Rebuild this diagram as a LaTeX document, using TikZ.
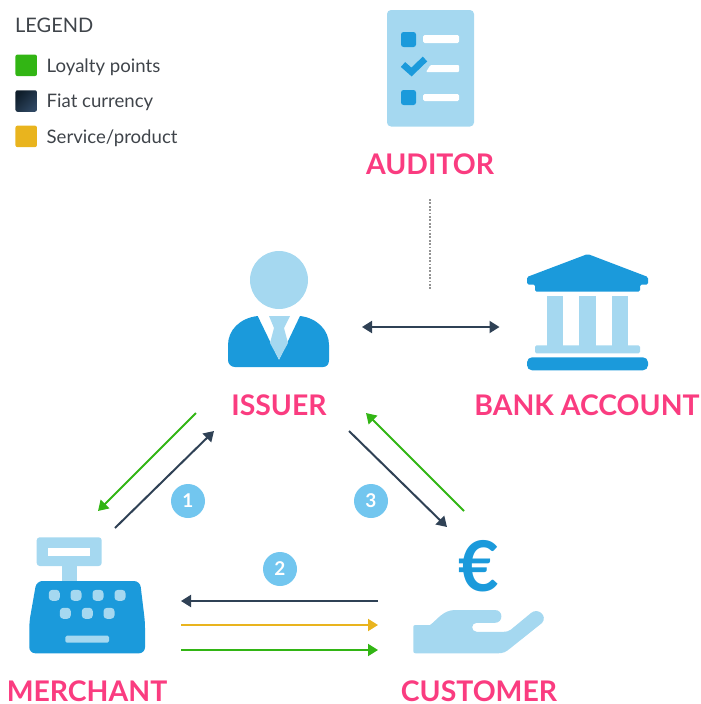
\documentclass[tikz,border=0pt]{standalone}
\usepackage{fontspec}
\setmainfont{Lato}
\usetikzlibrary{arrows.meta}
\definecolor{lightblue}{HTML}{A5D8F0}
\definecolor{darkblue}{HTML}{1B9ADB}
\definecolor{badge}{HTML}{72C6EF}
\definecolor{pinklabel}{HTML}{FA3C80}
\definecolor{fiat}{HTML}{2F4155}
\definecolor{loyal}{HTML}{32B514}
\definecolor{service}{HTML}{E9B41E}
\definecolor{legendtext}{HTML}{3F444A}
\definecolor{swdarklo}{HTML}{0F1E2B}
\definecolor{swdarkhi}{HTML}{2F4762}
\tikzset{
  x=1pt,y=-1pt,
  lite/.style={fill=lightblue,draw=none},
  deep/.style={fill=darkblue,draw=none},
  blank/.style={fill=white,draw=none},
  rolelabel/.style={text=pinklabel,font=\fontsize{28.4}{29}\selectfont\bfseries,inner sep=0pt,anchor=base},
  legendhead/.style={text=legendtext,font=\fontsize{20}{20}\selectfont,inner sep=0pt,anchor=base west},
  legendlabel/.style={text=legendtext,font=\fontsize{18.6}{19}\selectfont,inner sep=0pt,anchor=base west},
  swatch/.style={minimum width=21.5pt,minimum height=21.5pt,inner sep=0pt,rounded corners=2pt,draw=none},
  flow/.style={line width=2pt,-{Triangle[length=10pt,width=12pt]}},
  flowboth/.style={line width=2pt,{Triangle[length=10pt,width=12pt]}-{Triangle[length=10pt,width=12pt]}},
  auditlink/.style={line width=1.7pt,color=gray!85,dash pattern=on 1.7pt off 1.7pt},
  stepbadge/.style={circle,fill=badge,text=white,minimum size=34pt,inner sep=0pt,font=\fontsize{19}{19}\selectfont\bfseries},
  keycap/.style={fill=lightblue,draw=none,rounded corners=3.5pt,minimum width=11pt,minimum height=11pt,inner sep=0pt},
}
\begin{document}
\begin{tikzpicture}
\useasboundingbox (0,0) rectangle (701,704);
% legend
\node[legendhead] (legendtitle) at (15,32.5) {LEGEND};
\node[swatch,fill=loyal] (swgreen) at (26.2,65.3) {};
\node[swatch,left color=swdarklo,right color=swdarkhi,shading angle=45] (swdark) at (26.2,101) {};
\node[swatch,fill=service] (swyellow) at (26.2,136.4) {};
\node[legendlabel] (lgreen) at (46.5,72) {Loyalty points};
\node[legendlabel] (ldark) at (46.5,107.5) {Fiat currency};
\node[legendlabel] (lyellow) at (46.5,143) {Service/product};
% auditor icon
\fill[lite,rounded corners=4pt] (387,10) rectangle (474,126.5);
\fill[deep,rounded corners=2.5pt] (401,32) rectangle (416,47);
\fill[deep,rounded corners=2.5pt] (401,90) rectangle (416,105);
\fill[blank,rounded corners=1.5pt] (423,35) rectangle (459,43);
\fill[blank,rounded corners=1.5pt] (423,94) rectangle (459,101);
\fill[blank,rounded corners=1pt] (426,72) -- (430.5,65) -- (459,65) -- (459,72) -- cycle;
\draw[darkblue,line width=6.5pt] (403,64.5) -- (411.5,72) -- (425,59);
% issuer icon
\fill[lite] (279,280) circle [radius=29];
\fill[deep] (257.7,316) .. controls (240,318) and (228,330) .. (228,345) -- (228,360)
  .. controls (228,364) and (231,367) .. (235,367) -- (323,367)
  .. controls (327,367) and (329,364) .. (329,360) -- (329,345)
  .. controls (329,330) and (317,318) .. (300,316) -- (279,360) -- cycle;
\fill[lite] (269,316) -- (290,316) -- (284,328) -- (288,343) -- (279,359.5) -- (270,343) -- (274,328) -- cycle;
% bank icon
\fill[deep,rounded corners=1.5pt] (587.7,254) -- (648,277) -- (648,284.5) -- (640,284.5) -- (640,291.7) -- (535,291.7) -- (535,284.5) -- (527,284.5) -- (527,277) -- cycle;
\fill[lite] (546.7,295.7) rectangle (563.3,346);
\fill[lite] (579.3,295.7) rectangle (595.7,346);
\fill[lite] (611.7,295.7) rectangle (628.3,346);
\fill[lite,rounded corners=1.5pt] (535,345.3) rectangle (640,353.3);
\fill[deep,rounded corners=5pt] (527,357.3) rectangle (648,370.3);
% merchant icon
\fill[lite] (61.7,560) rectangle (76.7,585);
\fill[lite,rounded corners=3pt] (36.7,537.3) rectangle (101.7,566);
\fill[blank] (47.7,547.7) rectangle (90.3,556.3);
\fill[deep,rounded corners=6pt] (36.5,581) -- (140,581) -- (145,622) -- (145,653.3) -- (29.3,653.3) -- (29.3,622) -- cycle;
\foreach \n/\kx/\ky in {a/54.3/595.3,b/76/595.3,c/98/595.3,d/120/595.3,e/65.3/613.3,f/87.3/613.3,g/109/613.3}
  \node[keycap] (key\n) at (\kx,\ky) {};
\fill[lite,rounded corners=1.5pt] (65.3,635.7) rectangle (109,642.7);
% customer icon
\node[text=darkblue,font=\fontsize{70}{70}\selectfont\bfseries,inner sep=0pt] (euro) at (479,566) {€};
\fill[lite] (413.3,627) .. controls (413.3,625.7) and (414,625) .. (415.5,625) -- (430,625)
  .. controls (437,620) and (443,610) .. (455,610) -- (495,610)
  .. controls (503.5,610) and (503.5,622.8) .. (495,622.8)
  -- (476.7,622.8) .. controls (470.7,622.8) and (470.7,631.8) .. (476.7,631.8)
  -- (503,631.8) .. controls (507,631.8) and (509,631) .. (511,629.5) -- (531,613)
  .. controls (538,607) and (548,616) .. (542,623)
  -- (510,648.5) .. controls (506,652) and (503,653.3) .. (498,653.3)
  -- (415.5,653.3) .. controls (414,653.3) and (413.3,652.5) .. (413.3,651) -- cycle;
% role labels
\node[rolelabel] (auditor) at (430,174) {AUDITOR};
\node[rolelabel] (issuer) at (279,415) {ISSUER};
\node[rolelabel] (bank) at (587,415) {BANK ACCOUNT};
\node[rolelabel] (merchant) at (87,701) {MERCHANT};
\node[rolelabel] (customer) at (479,701) {CUSTOMER};
% connector ends
\coordinate (audA) at (430,199); \coordinate (audB) at (430,289);
\coordinate (bankA) at (362,327); \coordinate (bankB) at (499.5,327);
\coordinate (imA) at (196,413); \coordinate (imB) at (98,511);
\coordinate (miA) at (115,528); \coordinate (miB) at (214,431);
\coordinate (icA) at (349,431); \coordinate (icB) at (447,527);
\coordinate (ciA) at (464,511); \coordinate (ciB) at (366,413);
\coordinate (cmA) at (378,601); \coordinate (cmB) at (181,601);
\coordinate (mcyA) at (181,625); \coordinate (mcyB) at (378,625);
\coordinate (mcgA) at (181,650); \coordinate (mcgB) at (378,650);
% connectors
\draw[auditlink] (audA) -- (audB);
\draw[flowboth,fiat] (bankA) -- (bankB);
\draw[flow,loyal] (imA) -- (imB);
\draw[flow,fiat] (miA) -- (miB);
\draw[flow,fiat] (icA) -- (icB);
\draw[flow,loyal] (ciA) -- (ciB);
\draw[flow,fiat] (cmA) -- (cmB);
\draw[flow,service] (mcyA) -- (mcyB);
\draw[flow,loyal] (mcgA) -- (mcgB);
% badges
\node[stepbadge] (one) at (188,501) {1};
\node[stepbadge] (three) at (371,501) {3};
\node[stepbadge] (two) at (280,569) {2};
\end{tikzpicture}
\end{document}
